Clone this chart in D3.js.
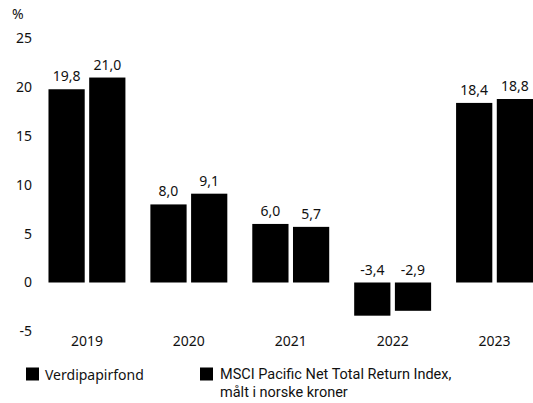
<!DOCTYPE html>
<html>
<head>
<meta charset="utf-8">
<script src="https://cdn.jsdelivr.net/npm/d3@7"></script>
<style>
  body { margin: 0; background: #fff; }
  svg { font-family: "Noto Sans", Lato, sans-serif; }
</style>
</head>
<body>
<div id="chart"></div>
<script>
// chart size
const width = 533;
const height = 403;

// data
const years = ["2019", "2020", "2021", "2022", "2023"];
const seriesNames = ["Verdipapirfond", "MSCI Pacific Net Total Return Index,"];
const fund = [19.8, 8.0, 6.0, -3.4, 18.4];
const index = [21.0, 9.1, 5.7, -2.9, 18.8];
const yTicks = [-5, 0, 5, 10, 15, 20, 25];

const data = years.map((y, i) => ({year: y, values: [fund[i], index[i]]}));

const svg = d3.select("#chart")
  .append("svg")
  .attr("width", width)
  .attr("height", height)
  .attr("viewBox", [0, 0, width, height]);

// scales
let yScale = d3.scaleLinear()
  .domain([-5, 25])
  .range([331.3, 38.5]);

let xScale = d3.scaleBand()
  .domain(years)
  .range([36, 545.5])
  .paddingInner(0.245)
  .paddingOuter(0.1225);

let xSub = d3.scaleBand()
  .domain([0, 1])
  .range([0, xScale.bandwidth()])
  .paddingInner(0.11);

// y axis: labels only
svg.append("g")
  .attr("transform", "translate(32,0)")
  .call(d3.axisLeft(yScale).tickValues(yTicks).tickSize(0).tickPadding(0)
    .tickFormat(d => d < 0 ? "-" + Math.abs(d) : d))
  .attr("font-size", "14px")
  .attr("font-family", null)
  .call(g => g.select(".domain").remove())
  .call(g => g.selectAll("text").attr("fill", "#111"));

svg.append("text")
  .attr("x", 12)
  .attr("y", 19)
  .attr("font-size", "14px")
  .attr("fill", "#111")
  .text("%");

// x axis: year labels
svg.append("g")
  .attr("transform", "translate(0,336)")
  .call(d3.axisBottom(xScale).tickSize(0).tickPadding(0))
  .attr("font-size", "14px")
  .attr("font-family", null)
  .call(g => g.select(".domain").remove())
  .call(g => g.selectAll("text").attr("fill", "#111"));

// bars
const groups = svg.selectAll(".group")
  .data(data)
  .enter()
  .append("g")
    .attr("class", "group")
    .attr("transform", d => `translate(${xScale(d.year)},0)`);

groups.selectAll("rect")
  .data(d => d.values)
  .enter()
  .append("rect")
    .attr("x", (d, i) => xSub(i))
    .attr("y", d => yScale(Math.max(d, 0)))
    .attr("width", xSub.bandwidth())
    .attr("height", d => Math.abs(yScale(d) - yScale(0)))
    .attr("fill", "#000");

groups.selectAll(".label")
  .data(d => d.values)
  .enter()
  .append("text")
    .attr("class", "label")
    .attr("x", (d, i) => xSub(i) + xSub.bandwidth() / 2)
    .attr("y", d => yScale(Math.max(d, 0)) - 8)
    .attr("text-anchor", "middle")
    .attr("font-size", "14px")
    .attr("fill", "#111")
    .text(d => d.toFixed(1).replace(".", ","));

// legend
const legend = svg.append("g");
legend.append("rect")
  .attr("x", 26).attr("y", 367.5).attr("width", 13).attr("height", 13)
  .attr("fill", "#000");
legend.append("text")
  .attr("x", 45).attr("y", 379.5)
  .attr("font-size", "14px").attr("fill", "#111")
  .text(seriesNames[0]);
legend.append("rect")
  .attr("x", 200).attr("y", 367.5).attr("width", 13).attr("height", 13)
  .attr("fill", "#000");
// second label wraps over two lines, tighter font so lines don't collide
legend.append("text")
  .attr("x", 220).attr("y", 378.5)
  .attr("font-family", "Roboto, sans-serif")
  .attr("font-size", "14.5px").attr("fill", "#111")
  .text(seriesNames[1]);
legend.append("text")
  .attr("x", 220).attr("y", 396.5)
  .attr("font-family", "Roboto, sans-serif")
  .attr("font-size", "14.5px").attr("fill", "#111")
  .text("målt i norske kroner");
</script>
</body>
</html>
